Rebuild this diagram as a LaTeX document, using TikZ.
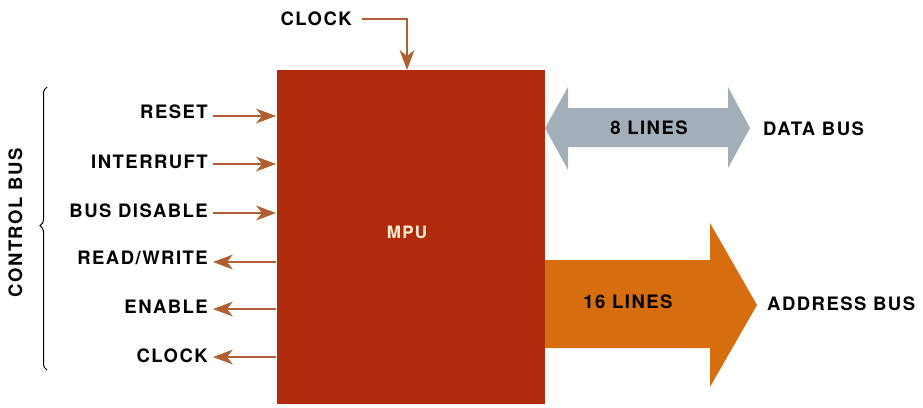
\documentclass[tikz,border=0pt]{standalone}
\usepackage{fontspec}
\setmainfont{TeX Gyre Heros}[LetterSpace=8]
\usetikzlibrary{arrows.meta,decorations.pathreplacing}
\definecolor{mpured}{RGB}{178,42,12}
\definecolor{sigbrown}{RGB}{176,96,48}
\definecolor{datagray}{RGB}{163,175,184}
\definecolor{addrorange}{RGB}{214,110,16}
\definecolor{mputext}{RGB}{255,240,210}
\tikzset{
  lbl/.style={font=\fontsize{18.5}{22}\selectfont\bfseries, inner sep=0pt},
  sigtip/.tip={Stealth[length=20pt,width=15pt,inset=6pt,line width=0pt]},
  sig/.style={draw=sigbrown, line width=1.4pt, arrows={-sigtip}},
}
\begin{document}
\begin{tikzpicture}[x=1pt,y=-1pt]
\useasboundingbox (0,0) rectangle (923,407);
% MPU box
\fill[mpured] (277,70) rectangle (545,404);
\node[font=\fontsize{17}{20}\selectfont\bfseries, text=mputext, inner sep=0pt] (mpulbl) at (407,232) {MPU};
% top clock
\node[lbl, anchor=east] (clocktop) at (352,19) {CLOCK};
\coordinate (clkin) at (407,70);
\draw[sig] ([xshift=10pt]clocktop.east) -| (clkin);
% left signals
\node[lbl, anchor=east] (reset) at (208,112) {RESET};
\node[lbl, anchor=east] (intr) at (208,162) {INTERRUFT};
\node[lbl, anchor=east] (busdis) at (208,211) {BUS DISABLE};
\node[lbl, anchor=east] (rw) at (208,258) {READ/WRITE};
\node[lbl, anchor=east] (enable) at (208,307) {ENABLE};
\node[lbl, anchor=east] (clockb) at (208,356) {CLOCK};
\coordinate (cReset) at (276,116);
\coordinate (cIntr) at (276,164);
\coordinate (cBus) at (276,213);
\coordinate (cRw) at (276,262);
\coordinate (cEn) at (276,309);
\coordinate (cClk) at (276,357);
\draw[sig] ([xshift=5pt]reset.east |- cReset) -- (cReset);
\draw[sig] ([xshift=5pt]intr.east |- cIntr) -- (cIntr);
\draw[sig] ([xshift=5pt]busdis.east |- cBus) -- (cBus);
\draw[sig] (cRw) -- ([xshift=5pt]rw.east |- cRw);
\draw[sig] (cEn) -- ([xshift=5pt]enable.east |- cEn);
\draw[sig] (cClk) -- ([xshift=5pt]clockb.east |- cClk);
% control bus brace
\draw[line width=1pt, decorate, decoration={brace, amplitude=7pt, mirror, aspect=0.49}] (47,87) -- (47,370);
\node[lbl, rotate=90] (ctrl) at (15.5,223) {CONTROL BUS};
% data bus double arrow
\fill[datagray] (545,128) -- (568,87) -- (568,108) -- (728,108) -- (728,87) -- (750,128) -- (728,168) -- (728,147) -- (568,147) -- (568,170) -- cycle;
\node[lbl] (eight) at (649,128) {8 LINES};
\node[lbl, anchor=west] (databus) at (763,129) {DATA BUS};
% address bus arrow
\fill[addrorange] (545,260) -- (710,260) -- (710,223) -- (757,305) -- (710,387) -- (710,348) -- (545,348) -- cycle;
\node[lbl] (sixteen) at (628,302) {16 LINES};
\node[lbl, anchor=west] (addrbus) at (767,304) {ADDRESS BUS};
\end{tikzpicture}
\end{document}
